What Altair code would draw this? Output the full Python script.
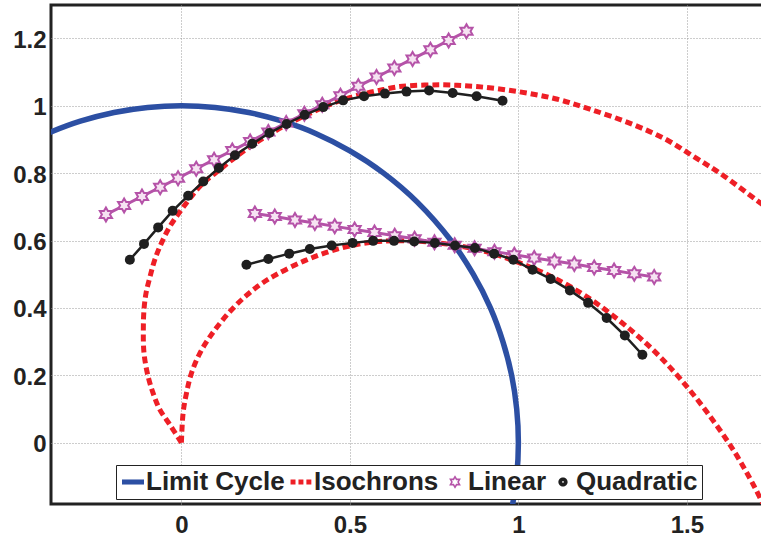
import altair as alt
import pandas as pd

# ---------------- data ----------------
NAMES = ["Limit Cycle", "Isochrons", "Linear", "Quadratic"]

# Limit cycle
lc_x = [-0.42, -0.387, -0.3, -0.2, -0.1, 0.0, 0.1, 0.2, 0.3, 0.4, 0.5, 0.6, 0.7,
        0.8, 0.866, 0.917, 0.954, 0.98, 0.995, 1.0, 0.995, 0.98]
lc_y = [0.907, 0.922, 0.954, 0.98, 0.995, 1.0, 0.995, 0.98, 0.954, 0.917, 0.866,
        0.8, 0.714, 0.6, 0.5, 0.4, 0.3, 0.2, 0.1, 0.0, -0.1, -0.2]

# Isochron A (upper one)
isoA_x = [0.0, -0.034, -0.064, -0.084, -0.099, -0.111, -0.113, -0.111, -0.105, -0.093,
          -0.079, -0.059, -0.034, -0.004, 0.030, 0.065, 0.111, 0.16, 0.21, 0.26, 0.31,
          0.37, 0.42, 0.48, 0.54, 0.60, 0.648, 0.767, 0.876, 0.999, 1.113, 1.212, 1.341,
          1.440, 1.519, 1.598, 1.712, 1.76]
isoA_y = [0.0, 0.053, 0.098, 0.147, 0.197, 0.266, 0.335, 0.395, 0.444, 0.493,
          0.543, 0.593, 0.642, 0.686, 0.731, 0.771, 0.808, 0.847, 0.883, 0.914, 0.943,
          0.972, 0.995, 1.018, 1.035, 1.048, 1.057, 1.062, 1.057, 1.042, 1.020, 0.990, 0.944,
          0.899, 0.850, 0.800, 0.716, 0.68]

# Isochron B (lower one)
isoB_x = [0.0, 0.005, 0.015, 0.030, 0.055, 0.085, 0.119, 0.154, 0.193, 0.235, 0.282,
          0.361, 0.441, 0.520, 0.60, 0.70, 0.80, 0.90, 1.00, 1.10, 1.20, 1.30, 1.40,
          1.48, 1.56, 1.64, 1.70, 1.73]
isoB_y = [0.0, 0.088, 0.147, 0.207, 0.266, 0.315, 0.360, 0.400, 0.437, 0.470, 0.499,
          0.538, 0.568, 0.588, 0.598, 0.598, 0.588, 0.568, 0.535, 0.492, 0.435, 0.362, 0.275,
          0.19, 0.09, -0.025, -0.13, -0.19]

# Linear approximations
lin1_x = [-0.224, -0.170, -0.117, -0.063, -0.010, 0.044, 0.097, 0.151, 0.204, 0.258, 0.311,
          0.365, 0.418, 0.472, 0.525, 0.579, 0.632, 0.686, 0.739, 0.793, 0.846]
lin1_y = [0.677, 0.704, 0.731, 0.758, 0.785, 0.813, 0.840, 0.867, 0.894, 0.922, 0.949,
          0.976, 1.003, 1.030, 1.058, 1.085, 1.112, 1.139, 1.166, 1.194, 1.221]
lin2_x = [0.218, 0.277, 0.337, 0.396, 0.455, 0.514, 0.573, 0.633, 0.692, 0.751, 0.811,
          0.870, 0.929, 0.988, 1.047, 1.107, 1.166, 1.225, 1.284, 1.344, 1.403]
lin2_y = [0.680, 0.671, 0.661, 0.652, 0.642, 0.633, 0.624, 0.614, 0.605, 0.595, 0.586,
          0.577, 0.567, 0.558, 0.548, 0.539, 0.530, 0.520, 0.511, 0.501, 0.492]

# Quadratic approximations
quad1_x = [-0.153, -0.111, -0.069, -0.026, 0.020, 0.065, 0.111, 0.159, 0.210, 0.261, 0.312,
           0.366, 0.421, 0.480, 0.542, 0.604, 0.668, 0.735, 0.805, 0.876, 0.953]
quad1_y = [0.543, 0.590, 0.639, 0.688, 0.733, 0.775, 0.815, 0.853, 0.887, 0.919, 0.946,
           0.973, 0.996, 1.016, 1.028, 1.036, 1.042, 1.045, 1.038, 1.028, 1.015]
quad2_x = [0.193, 0.258, 0.320, 0.381, 0.446, 0.508, 0.569, 0.631, 0.691, 0.752, 0.812,
           0.871, 0.928, 0.985, 1.042, 1.096, 1.153, 1.207, 1.262, 1.316, 1.368]
quad2_y = [0.528, 0.545, 0.561, 0.575, 0.585, 0.593, 0.599, 0.599, 0.597, 0.593, 0.585,
           0.578, 0.561, 0.543, 0.513, 0.486, 0.452, 0.415, 0.370, 0.318, 0.261]

x_ticks = [0, 0.5, 1, 1.5]
y_ticks = [0, 0.2, 0.4, 0.6, 0.8, 1.0, 1.2]

# ---------------- styles ----------------
BLUE = "#2c4fa3"
RED = "#ee1f26"
PURPLE = "#b553a8"
BLACK = "#1f1f1f"
COLORS = [BLUE, RED, PURPLE, BLACK]

W, H = 710, 499

HEX_PTS = [(0, -1), (0.289, -0.5), (0.866, -0.5), (0.577, 0), (0.866, 0.5), (0.289, 0.5),
           (0, 1), (-0.289, 0.5), (-0.866, 0.5), (-0.577, 0), (-0.866, -0.5), (-0.289, -0.5)]


def hex_path(scale, reverse=False):
    pts = HEX_PTS[::-1] if reverse else HEX_PTS
    return "M" + " L".join(f"{round(px * scale, 3)},{round(py * scale, 3)}" for px, py in pts) + " Z"


def circle_path(r, sweep):
    return (f"M{-r},0 A{r},{r} 0 1,{sweep} {r},0 A{r},{r} 0 1,{sweep} {-r},0 Z")


HEX = hex_path(1.0)
HEX_RING = hex_path(0.62) + " " + hex_path(0.34, reverse=True)
LINE_SYM = "M-1,-0.23 L1,-0.23 L1,0.23 L-1,0.23 Z"
DOTS_SYM = ("M-0.95,-0.23 L-0.5,-0.23 L-0.5,0.23 L-0.95,0.23 Z "
            "M-0.23,-0.23 L0.22,-0.23 L0.22,0.23 L-0.23,0.23 Z "
            "M0.49,-0.23 L0.94,-0.23 L0.94,0.23 L0.49,0.23 Z")
DOT_SYM = circle_path(0.42, 0) + " " + circle_path(0.08, 1)
SHAPES = [LINE_SYM, DOTS_SYM, HEX_RING, DOT_SYM]


def frame(groups):
    rows = []
    for g, (xs_, ys_) in enumerate(groups):
        for i, (xv, yv) in enumerate(zip(xs_, ys_)):
            rows.append({"g": g, "i": i, "x": xv, "y": yv})
    return pd.DataFrame(rows)


lc_df = frame([(lc_x, lc_y)])
iso_df = frame([(isoA_x, isoA_y), (isoB_x, isoB_y)])
lin_df = frame([(lin1_x, lin1_y), (lin2_x, lin2_y)])
quad_df = frame([(quad1_x, quad1_y), (quad2_x, quad2_y)])
leg_df = pd.DataFrame({"series": NAMES})

xs = alt.Scale(domain=[-0.387, 1.72], nice=False, zero=False)
ys = alt.Scale(domain=[-0.182, 1.299], nice=False, zero=False)

bottom_axis = alt.Axis(orient="bottom", values=x_ticks, format="~g", labelPadding=9,
                       grid=True, title=None)
left_axis = alt.Axis(orient="left", values=y_ticks, format="~g", labelPadding=5,
                     labelOffset=2, grid=True, title=None)

X = alt.X("x:Q", scale=xs, axis=bottom_axis)
Y = alt.Y("y:Q", scale=ys, axis=left_axis)

limit = alt.Chart(lc_df).mark_line(
    color=BLUE, strokeWidth=5.5, clip=True, interpolate="catmull-rom"
).encode(x=X, y=Y, order="i:Q")

iso = alt.Chart(iso_df).mark_line(
    color=RED, strokeWidth=5, strokeDash=[7, 4], clip=True, interpolate="catmull-rom"
).encode(x=X, y=Y, detail="g:N", order="i:Q")

lin_line = alt.Chart(lin_df).mark_line(color=PURPLE, strokeWidth=3, clip=True).encode(
    x=X, y=Y, detail="g:N", order="i:Q"
)
lin_pts = alt.Chart(lin_df).mark_point(
    shape=HEX, size=196, fill="#f6e3f2", stroke=PURPLE, strokeWidth=2, opacity=1, clip=True
).encode(x=X, y=Y)

quad_line = alt.Chart(quad_df).mark_line(color=BLACK, strokeWidth=2.5, clip=True).encode(
    x=X, y=Y, detail="g:N", order="i:Q"
)
quad_pts = alt.Chart(quad_df).mark_circle(size=100, color=BLACK, opacity=1, clip=True).encode(
    x=X, y=Y
)

# legend-only layer: all rows filtered out, the legend comes from the explicit scale domains
legend_layer = alt.Chart(leg_df).transform_filter(
    alt.datum.series == "__none__"
).mark_point(filled=True, opacity=1).encode(
    color=alt.Color(
        "series:N",
        title=None,
        scale=alt.Scale(domain=NAMES, range=COLORS),
        legend=alt.Legend(
            orient="none", legendX=65, legendY=460, direction="horizontal", columns=4,
            symbolSize=484, symbolStrokeWidth=0,
            labelFont="Liberation Sans", labelFontWeight="bold", labelFontSize=26,
            labelColor="#222", labelOffset=0, columnPadding=3, padding=4,
            strokeColor="#222", fillColor="white", labelLimit=300,
        ),
    ),
    shape=alt.Shape("series:N", title=None, scale=alt.Scale(domain=NAMES, range=SHAPES)),
)

chart = alt.layer(
    limit, iso, lin_line, lin_pts, quad_line, quad_pts, legend_layer
).properties(
    width=W,
    height=H,
    autosize=alt.AutoSizeParams(type="none"),
    padding={"left": 51, "top": 5, "right": 0, "bottom": 34},
).configure_view(
    stroke="#222",
    strokeWidth=3,
    strokeDash=[W, H, W + H, 1],
).configure_axis(
    labelFont="Liberation Sans",
    labelFontWeight="bold",
    labelFontSize=24,
    labelColor="#222",
    domain=False,
    gridColor="#9a9a9a",
    gridDash=[1, 2],
    gridWidth=1,
    ticks=False,
)

chart.save("out.html", embed_options={"renderer": "svg", "actions": False})
